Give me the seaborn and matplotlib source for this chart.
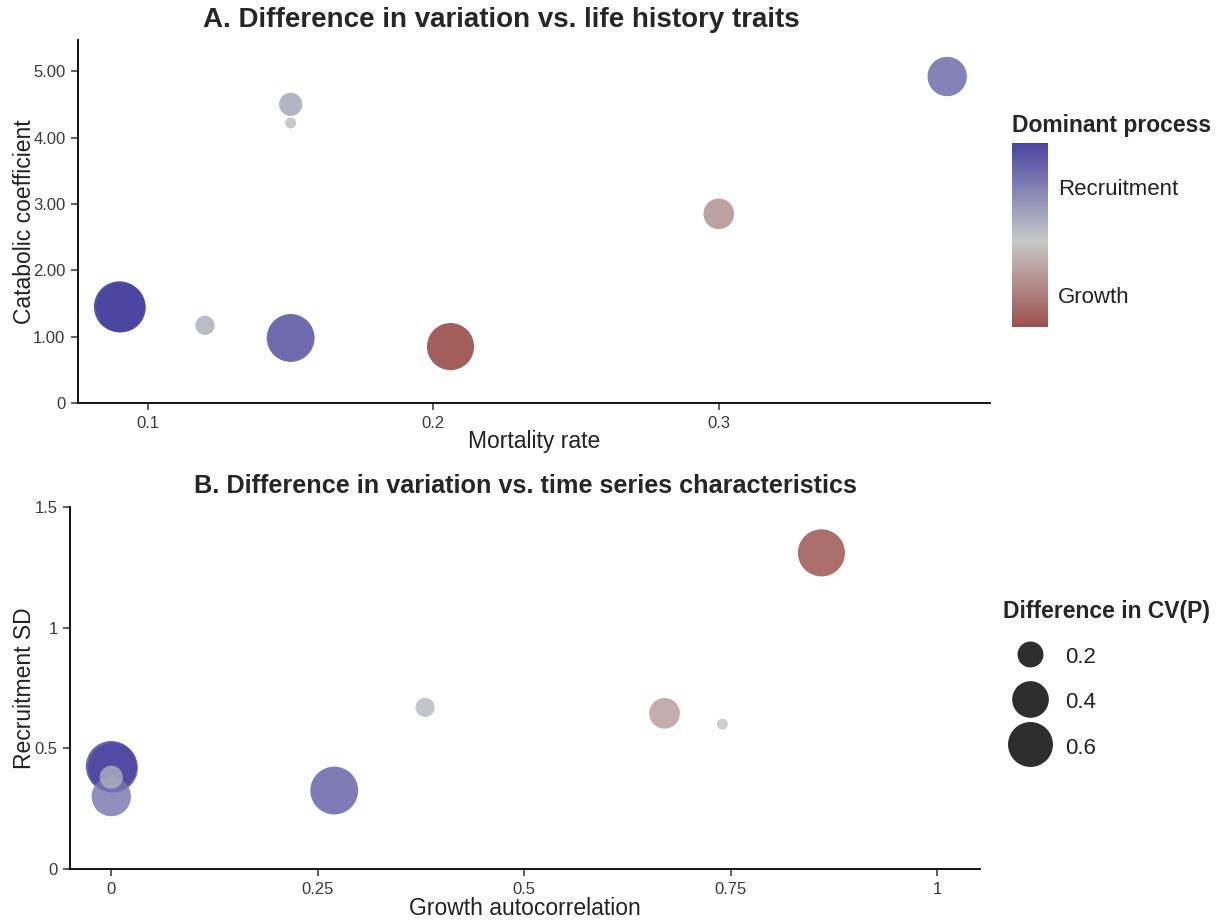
import numpy as np
import matplotlib
matplotlib.use("Agg")
import matplotlib.pyplot as plt
import seaborn as sns
from matplotlib.colors import LinearSegmentedColormap, Normalize
from matplotlib.lines import Line2D

# one entry per stock
mortality = [0.090, 0.0905, 0.150, 0.206, 0.300, 0.380, 0.150, 0.120, 0.150]
catabolic = [1.45, 1.44, 0.98, 0.85, 2.85, 4.92, 4.50, 1.17, 4.22]
growth_ac = [0.000, 0.002, 0.270, 0.860, 0.670, 0.000, 0.000, 0.380, 0.740]
recruit_sd = [0.425, 0.420, 0.325, 1.310, 0.645, 0.300, 0.380, 0.670, 0.600]
cv_diff = [0.77, 0.74, 0.68, 0.66, 0.28, 0.46, 0.16, 0.11, 0.036]
dominance = [0.90, 0.88, 0.72, -0.79, -0.30, 0.55, 0.18, 0.12, 0.03]

legend_sizes = [0.2, 0.4, 0.6]
process_ticks = [-0.5, 0, 0.5]
process_labels = ["Growth", "", "Recruitment"]

sns.set_style("white")
plt.rcParams["font.family"] = ["Liberation Sans", "DejaVu Sans"]

cmap = LinearSegmentedColormap.from_list("proc", ["#94403b", "#c9c9c9", "#4944a0"])
norm = Normalize(-0.9, 0.9)
size_k = 1744  # points^2 per unit of CV difference

fig = plt.figure(figsize=(12.22, 9.21), dpi=100)
ax1 = fig.add_axes([78 / 1222, 1 - 403 / 921, 912 / 1222, 363 / 921])
ax2 = fig.add_axes([70 / 1222, 1 - 869 / 921, 910 / 1222, 362 / 921])

sns.scatterplot(x=mortality, y=catabolic, hue=dominance, size=cv_diff,
                palette=cmap, hue_norm=norm, sizes=(0, size_k), size_norm=(0, 1),
                linewidth=0, alpha=0.92, legend=False, ax=ax1)
sns.scatterplot(x=growth_ac, y=recruit_sd, hue=dominance, size=cv_diff,
                palette=cmap, hue_norm=norm, sizes=(0, size_k), size_norm=(0, 1),
                linewidth=0, alpha=0.82, legend=False, ax=ax2)

ax1.set_xlim(0.0755, 0.395)
ax1.set_ylim(0, 5.47)
ax1.set_xticks([0.1, 0.2, 0.3])
ax1.set_xticklabels(["0.1", "0.2", "0.3"])
ax1.set_yticks([0, 1, 2, 3, 4, 5])
ax1.set_yticklabels(["0", "1.00", "2.00", "3.00", "4.00", "5.00"])
ax1.set_xlabel("Mortality rate", fontsize=16.5, color="#222222")
ax1.set_ylabel("Catabolic coefficient", fontsize=16.5, color="#222222")
ax1.xaxis.set_label_coords(0.5, -0.0744)
ax1.yaxis.set_label_coords(-0.046, 0.5)

ax2.set_xlim(-0.05, 1.052)
ax2.set_ylim(0, 1.5)
ax2.set_xticks([0, 0.25, 0.5, 0.75, 1])
ax2.set_xticklabels(["0", "0.25", "0.5", "0.75", "1"])
ax2.set_yticks([0, 0.5, 1, 1.5])
ax2.set_yticklabels(["0", "0.5", "1", "1.5"])
ax2.set_xlabel("Growth autocorrelation", fontsize=16.5, color="#222222")
ax2.set_ylabel("Recruitment SD", fontsize=16.5, color="#222222")
ax2.xaxis.set_label_coords(0.5, -0.0773)
ax2.yaxis.set_label_coords(-0.0374, 0.5)

for ax in (ax1, ax2):
    for side in ("top", "right"):
        ax.spines[side].set_visible(False)
    for side in ("left", "bottom"):
        ax.spines[side].set_color("black")
        ax.spines[side].set_linewidth(1.3)
    ax.tick_params(axis="both", direction="out", length=5, width=1.1,
                   color="#333333", labelsize=12, labelcolor="#3a3a3a",
                   bottom=True, left=True, pad=4)

fig.text(501 / 1222, 1 - 20 / 921, "A. Difference in variation vs. life history traits",
         ha="center", va="center", fontsize=20, fontweight="bold")
fig.text(525 / 1222, 1 - 486 / 921, "B. Difference in variation vs. time series characteristics",
         ha="center", va="center", fontsize=18.2, fontweight="bold")

# colour legend
fig.text(1012 / 1222, 1 - 125 / 921, "Dominant process", ha="left", va="center",
         fontsize=16.5, fontweight="bold")
cax = fig.add_axes([1012 / 1222, 1 - 327 / 921, 36 / 1222, 184 / 921])
sm = plt.cm.ScalarMappable(norm=norm, cmap=cmap)
cb = fig.colorbar(sm, cax=cax, boundaries=np.linspace(min(dominance), max(dominance), 300))
cb.outline.set_visible(False)
cb.set_ticks(process_ticks)
cb.set_ticklabels(process_labels)
cax.tick_params(axis="y", direction="in", length=7, width=1.5, color="white",
                left=True, right=True, labelsize=16, labelcolor="#222222", pad=7)

# size legend
handles = [Line2D([], [], marker="o", linestyle="", markerfacecolor="#2e2e2e",
                  markeredgewidth=0, markersize=np.sqrt(size_k * v), label=f"{v:.1f}")
           for v in legend_sizes]
leg = fig.legend(handles=handles, title="Difference in CV(P)", loc="upper left",
                 bbox_to_anchor=(1003 / 1222, 1 - 600 / 921), frameon=False,
                 fontsize=16, title_fontproperties={"weight": "bold", "size": 16.5},
                 borderpad=0, borderaxespad=0, handlelength=2.4, handletextpad=0.4,
                 handleheight=1.2, labelspacing=0.96)
leg._legend_box.align = "left"
for t in leg.get_texts():
    t.set_color("#222222")

fig.savefig("out.png", dpi=100, facecolor="white")
